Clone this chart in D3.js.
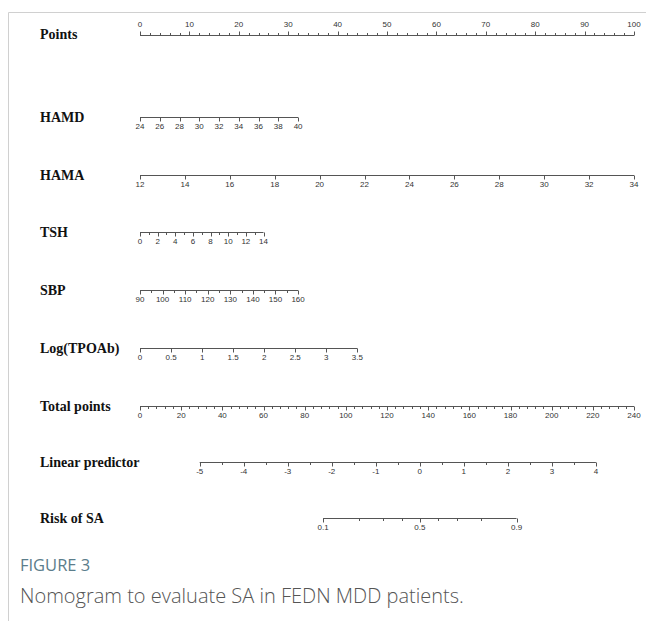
<!DOCTYPE html>
<html>
<head>
<meta charset="utf-8">
<script src="https://cdn.jsdelivr.net/npm/d3@7"></script>
<style>
    body { margin: 0; background: #fff; }
    .rowlab { font-family: "Liberation Serif", "Times New Roman", serif; font-weight: bold; font-size: 14px; fill: #111; }
    .ticklab { font-family: "Liberation Sans", Arial, sans-serif; font-size: 8px; fill: #333; }
    .axisline { stroke: #555; stroke-width: 1; fill: none; }
</style>
</head>
<body>
<div id="myfigure"></div>
<script>
// points axis
var pointsMax = 100;
var pointsLabels = d3.range(0, 101, 10);
var pointsTicks = d3.range(0, 101, 2);

// predictors
var varNames = ["HAMD", "HAMA", "TSH", "SBP", "Log(TPOAb)"];
var varMin = [24, 12, 0, 90, 0];
var varMax = [40, 34, 14, 160, 3.5];
var varMaxPoints = [32, 100, 25, 32, 44];
var varLabelStep = [2, 2, 2, 10, 0.5];
var varTickStep = [2, 2, 1, 5, 0.5];

// total points
var totalMax = 240;
var totalLabels = d3.range(0, 241, 20);
var totalTicks = d3.range(0, 241, 4);

// linear predictor
var lpRange = [-5, 4];
var lpAtTotal = [29, 221.5];
var lpLabels = d3.range(-5, 5, 1);
var lpTicks = d3.range(-5, 4.01, 0.5);

// risk
var riskTicks = [0.1, 0.2, 0.3, 0.4, 0.5, 0.6, 0.7, 0.8, 0.9];
var riskLabels = [0.1, 0.5, 0.9];

var width = 646, height = 621;
var left = 140, right = 634;

var svg = d3.select("#myfigure").append("svg")
    .attr("width", width).attr("height", height);

// frame lines of the page
svg.append("line").attr("x1", 8.5).attr("x2", width).attr("y1", 12.5).attr("y2", 12.5)
    .attr("stroke", "#d0d0d0");
svg.append("line").attr("x1", 8.5).attr("x2", 8.5).attr("y1", 12.5).attr("y2", height)
    .attr("stroke", "#d0d0d0");

var pScale = d3.scaleLinear().domain([0, pointsMax]).range([left, right]);
var tScale = d3.scaleLinear().domain([0, totalMax]).range([left, right]);
var lpScale = d3.scaleLinear().domain(lpRange).range([tScale(lpAtTotal[0]), tScale(lpAtTotal[1])]);

// plain hyphen for negatives, like the R output
var fmt = function(d) { return String(+d.toFixed(3)); };

// draws one axis: line, major/minor ticks and labels
function drawAxis(y, name, pos, ticks, labels, up) {
    var g = svg.append("g").attr("transform", "translate(0," + y + ")");
    var x0 = d3.min(ticks.map(pos)), x1 = d3.max(ticks.map(pos));
    g.append("line").attr("class", "axisline")
        .attr("x1", x0).attr("x2", x1).attr("y1", 0.5).attr("y2", 0.5);
    var dir = up ? -1 : 1;
    var isLab = function(t) { return labels.some(function(l) { return Math.abs(l - t) < 1e-9; }); };
    g.selectAll("line.tk").data(ticks).enter().append("line")
        .attr("class", "axisline")
        .attr("x1", function(d) { return Math.round(pos(d)) + 0.5; })
        .attr("x2", function(d) { return Math.round(pos(d)) + 0.5; })
        .attr("y1", 0.5)
        .attr("y2", function(d) { return 0.5 + dir * (isLab(d) ? 4 : 2.5); });
    g.selectAll("text.tl").data(labels).enter().append("text")
        .attr("class", "ticklab")
        .attr("x", function(d) { return pos(d); })
        .attr("y", up ? -8 : 12)
        .attr("text-anchor", "middle")
        .text(fmt);
    svg.append("text").attr("class", "rowlab")
        .attr("x", 40).attr("y", y + (up ? 4 : 5))
        .text(name);
}

// Points
drawAxis(35, "Points", pScale, pointsTicks, pointsLabels, true);

// predictor rows
var rowY = [117, 175, 232, 290, 348];
varNames.forEach(function(n, i) {
    var s = d3.scaleLinear().domain([varMin[i], varMax[i]]).range([pScale(0), pScale(varMaxPoints[i])]);
    var ticks = d3.range(varMin[i], varMax[i] + 1e-9, varTickStep[i]);
    var labs = d3.range(varMin[i], varMax[i] + 1e-9, varLabelStep[i]);
    drawAxis(rowY[i], n, s, ticks, labs, false);
});

// Total points
drawAxis(406, "Total points", tScale, totalTicks, totalLabels, false);

// Linear predictor
drawAxis(462, "Linear predictor", lpScale, lpTicks, lpLabels, false);

// Risk of SA (logit of probability on the LP scale)
var riskPos = function(p) { return lpScale(Math.log(p / (1 - p))); };
drawAxis(518, "Risk of SA", riskPos, riskTicks, riskLabels, false);

// caption
svg.append("text")
    .attr("x", 20).attr("y", 571)
    .style("font-family", "'Open Sans', sans-serif")
    .style("font-size", "16.5px")
    .style("fill", "#5b7d8b")
    .text("FIGURE 3");
svg.append("text")
    .attr("x", 20).attr("y", 603)
    .style("font-family", "'Open Sans', sans-serif")
    .style("font-size", "20px")
    .style("font-weight", 300)
    .style("fill", "#555")
    .text("Nomogram to evaluate SA in FEDN MDD patients.");
</script>
</body>
</html>
